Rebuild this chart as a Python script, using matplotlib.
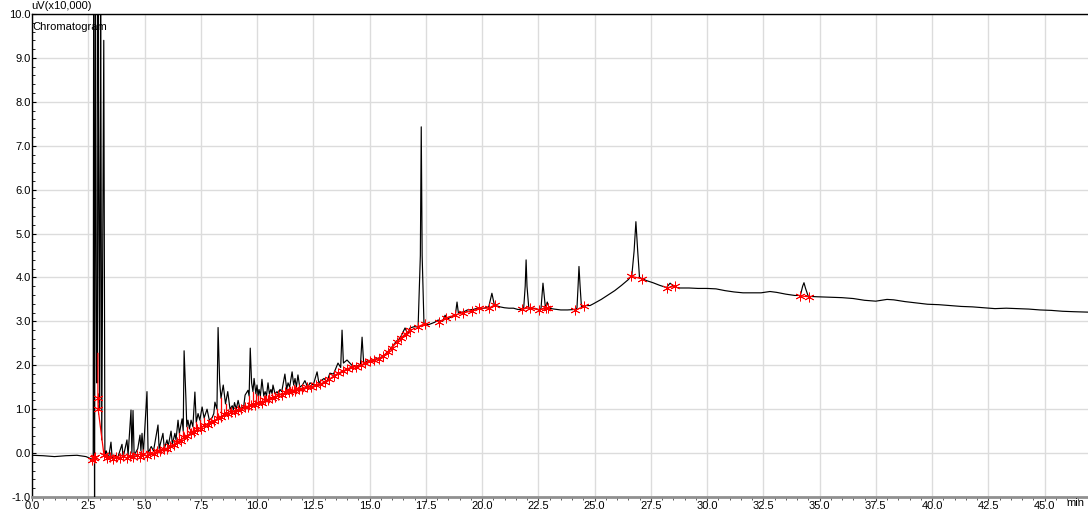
import numpy as np
import matplotlib
matplotlib.use('Agg')
import matplotlib.pyplot as plt
from matplotlib.ticker import MultipleLocator

plt.rcParams['font.family'] = ['Liberation Sans', 'DejaVu Sans']

# --- chromatogram trace, (min, uV x10,000) ---
pre_solvent = [(0.0, -0.05), (0.5, -0.06), (1.0, -0.08), (1.5, -0.06), (2.0, -0.05),
               (2.4, -0.08), (2.72, -0.15)]

solvent = [(2.74, 11.0), (2.78, -1.5), (2.82, 11.0), (2.87, 1.6), (2.89, 2.57), (2.91, 1.6),
           (2.93, 11.0), (3.01, 1.0), (3.05, 11.0), (3.1, 0.3), (3.19, 9.4), (3.24, -0.05)]

early = [(3.3, 0.05), (3.4, -0.12), (3.51, 0.25), (3.56, -0.1), (3.7, -0.05), (3.8, -0.12),
         (4.0, 0.2), (4.05, -0.1), (4.22, 0.3), (4.27, -0.05), (4.4, 0.98), (4.44, 0.0),
         (4.49, 0.97), (4.54, -0.05), (4.7, 0.1), (4.8, 0.41), (4.84, 0.05), (4.89, 0.45),
         (4.95, 0.0), (5.11, 1.4), (5.16, 0.0), (5.3, 0.15), (5.4, 0.05), (5.6, 0.64),
         (5.65, 0.1), (5.82, 0.45), (5.88, 0.1), (6.0, 0.3), (6.05, 0.15), (6.18, 0.5),
         (6.24, 0.2), (6.35, 0.45), (6.4, 0.3), (6.49, 0.75), (6.55, 0.45), (6.67, 0.78),
         (6.72, 0.5), (6.76, 2.33), (6.84, 1.25), (6.88, 0.6), (6.93, 0.75), (7.0, 0.55),
         (7.07, 0.75), (7.15, 0.6), (7.24, 1.39), (7.3, 0.7), (7.38, 0.9), (7.46, 0.75),
         (7.56, 1.05), (7.65, 0.8), (7.78, 1.0), (7.88, 0.75), (8.0, 0.8), (8.08, 0.9),
         (8.13, 1.16), (8.22, 1.0), (8.27, 2.86), (8.34, 1.62), (8.4, 1.25), (8.5, 1.55),
         (8.6, 1.12), (8.7, 1.4), (8.8, 1.0), (8.9, 1.08), (8.95, 0.98), (9.0, 1.15),
         (9.08, 1.0), (9.16, 1.2), (9.25, 1.0), (9.33, 1.05), (9.4, 1.02), (9.47, 1.32),
         (9.6, 1.43), (9.65, 1.3), (9.7, 2.39), (9.76, 1.6), (9.82, 1.4), (9.87, 1.7),
         (9.95, 1.35), (10.0, 1.55), (10.05, 1.3), (10.09, 1.45), (10.15, 1.3), (10.22, 1.68),
         (10.3, 1.3), (10.36, 1.4), (10.42, 1.3), (10.49, 1.6), (10.55, 1.35), (10.62, 1.45),
         (10.67, 1.35), (10.71, 1.55), (10.8, 1.35), (10.89, 1.4), (10.95, 1.35), (11.02, 1.45),
         (11.1, 1.4), (11.24, 1.8), (11.32, 1.45), (11.38, 1.6), (11.45, 1.5), (11.56, 1.85),
         (11.63, 1.55), (11.69, 1.7), (11.75, 1.5), (11.82, 1.78), (11.9, 1.5), (12.02, 1.55),
         (12.13, 1.65), (12.25, 1.5), (12.36, 1.6), (12.5, 1.55), (12.67, 1.85), (12.75, 1.6),
         (12.85, 1.65), (12.98, 1.7), (13.1, 1.62), (13.24, 1.82), (13.4, 1.8), (13.6, 2.05),
         (13.72, 1.95), (13.78, 2.8), (13.84, 2.05), (14.0, 2.12), (14.22, 2.0), (14.44, 1.98),
         (14.6, 2.02), (14.67, 2.64), (14.74, 2.05), (14.9, 2.1), (15.11, 2.12), (15.33, 2.15),
         (15.6, 2.2), (15.69, 2.25), (15.9, 2.35), (16.0, 2.42), (16.2, 2.55), (16.36, 2.62),
         (16.58, 2.85), (16.7, 2.71), (16.8, 2.85), (17.0, 2.88), (17.16, 2.87)]

late = [(17.26, 4.5), (17.3, 7.43), (17.34, 4.5), (17.42, 2.96), (17.6, 2.92), (17.9, 2.98),
        (18.05, 3.03), (18.25, 3.0), (18.36, 3.14), (18.45, 3.05), (18.7, 3.12), (18.82, 3.16),
        (18.89, 3.44), (18.95, 3.19), (19.2, 3.22), (19.35, 3.26), (19.6, 3.27), (19.8, 3.3),
        (19.95, 3.28), (20.3, 3.33), (20.44, 3.64), (20.55, 3.37), (20.8, 3.33), (21.0, 3.31),
        (21.2, 3.3), (21.4, 3.3), (21.6, 3.27), (21.85, 3.28), (21.92, 3.8), (21.96, 4.4),
        (22.0, 3.8), (22.08, 3.3), (22.3, 3.3), (22.5, 3.27), (22.62, 3.28), (22.71, 3.87),
        (22.82, 3.3), (22.9, 3.44), (22.98, 3.3), (23.2, 3.28), (23.5, 3.26), (23.8, 3.26),
        (24.1, 3.27), (24.22, 3.3), (24.27, 3.8), (24.31, 4.25), (24.36, 3.8), (24.42, 3.33),
        (24.6, 3.36), (24.8, 3.36), (24.95, 3.4), (25.3, 3.5), (25.6, 3.6), (25.9, 3.7),
        (26.2, 3.82), (26.5, 3.95), (26.66, 4.05), (26.76, 4.6), (26.84, 5.27), (26.92, 4.6),
        (27.0, 4.0), (27.3, 3.93), (27.6, 3.88), (27.9, 3.82), (28.2, 3.77), (28.36, 3.87),
        (28.55, 3.78), (28.8, 3.76), (29.2, 3.76), (29.6, 3.75), (30.0, 3.75), (30.4, 3.74),
        (30.8, 3.7), (31.2, 3.67), (31.6, 3.65), (32.0, 3.65), (32.4, 3.65), (32.8, 3.68),
        (33.1, 3.66), (33.5, 3.62), (33.9, 3.59), (34.15, 3.59), (34.25, 3.8), (34.31, 3.88),
        (34.38, 3.75), (34.5, 3.57), (34.9, 3.56), (35.5, 3.55), (36.0, 3.54), (36.5, 3.52),
        (37.0, 3.48), (37.5, 3.46), (38.0, 3.5), (38.3, 3.49), (38.8, 3.45), (39.3, 3.42),
        (39.8, 3.39), (40.3, 3.38), (40.8, 3.36), (41.3, 3.34), (41.8, 3.33), (42.3, 3.31),
        (42.8, 3.29), (43.3, 3.3), (43.8, 3.29), (44.3, 3.28), (44.8, 3.26), (45.3, 3.25),
        (45.8, 3.23), (46.3, 3.22), (46.95, 3.21)]

# --- integration baselines (red) ---
red_start = [(2.67, -0.15), (2.75, -0.12), (2.82, -0.08)]
red_solvent = [(2.93, 2.27), (2.93, 1.25), (2.94, 1.0), (3.2, -0.05)]
red_dense = [(3.2, -0.05), (3.33, -0.12), (3.45, -0.08), (3.6, -0.13), (3.75, -0.08), (3.9, -0.12),
             (4.05, -0.07), (4.2, -0.11), (4.35, -0.06), (4.5, -0.1), (4.65, -0.05), (4.8, -0.09),
             (4.95, -0.03), (5.1, -0.06), (5.25, 0.0), (5.4, -0.02), (5.55, 0.05), (5.7, 0.04),
             (5.85, 0.1), (6.0, 0.1), (6.15, 0.17), (6.3, 0.18), (6.45, 0.26), (6.6, 0.28),
             (6.75, 0.36), (6.9, 0.38), (7.05, 0.46), (7.2, 0.47), (7.35, 0.55), (7.5, 0.56),
             (7.65, 0.63), (7.8, 0.64), (7.95, 0.7), (8.1, 0.72), (8.25, 0.8), (8.4, 0.82),
             (8.55, 0.88), (8.7, 0.88), (8.85, 0.93), (9.0, 0.94), (9.15, 0.99), (9.3, 1.0),
             (9.45, 1.05), (9.6, 1.05), (9.75, 1.1), (9.9, 1.1), (10.05, 1.15), (10.2, 1.15),
             (10.35, 1.2), (10.5, 1.2), (10.65, 1.26), (10.8, 1.27), (10.95, 1.32), (11.1, 1.33),
             (11.25, 1.38), (11.4, 1.38), (11.55, 1.42), (11.7, 1.42), (11.85, 1.46), (12.0, 1.46),
             (12.2, 1.5), (12.4, 1.5), (12.6, 1.55), (12.8, 1.57), (13.0, 1.62), (13.2, 1.68),
             (13.4, 1.75), (13.6, 1.82), (13.8, 1.86), (14.0, 1.92), (14.2, 1.95), (14.4, 1.97),
             (14.6, 2.0), (14.8, 2.05), (15.0, 2.1), (15.2, 2.12), (15.4, 2.15), (15.6, 2.2),
             (15.8, 2.3), (16.0, 2.4), (16.2, 2.52), (16.4, 2.62), (16.6, 2.72), (16.8, 2.8)]
red_peaks = [
    [(17.16, 2.88), (17.47, 2.95)],
    [(18.1, 2.99), (18.4, 3.08), (18.8, 3.14), (19.17, 3.2), (19.55, 3.23), (19.87, 3.3),
     (20.3, 3.3), (20.58, 3.38)],
    [(21.78, 3.28), (22.13, 3.31), (22.53, 3.26), (22.84, 3.3), (22.95, 3.3)],
    [(24.13, 3.25), (24.53, 3.34)],
    [(26.6, 4.03), (27.1, 3.97)],
    [(28.22, 3.76), (28.58, 3.8)],
    [(34.13, 3.58), (34.53, 3.56)],
]

trace = np.array(pre_solvent + solvent + early + late)
t, y = trace[:, 0], trace[:, 1]

fig = plt.figure(figsize=(10.88, 5.11), dpi=100)
ax = fig.add_axes([32 / 1088, 14 / 511, 1056 / 1088, 483 / 511])

ax.plot(t, y, color='black', lw=0.85, zorder=3)

# drop lines from the dense baseline up to the valleys between fused peaks
rd = np.array(red_dense)
for i in range(1, len(t) - 1):
    if 3.3 < t[i] < 13.0 and y[i] < y[i - 1] and y[i] < y[i + 1]:
        b = np.interp(t[i], rd[:, 0], rd[:, 1])
        if y[i] > b + 0.05:
            ax.plot([t[i], t[i]], [b, y[i]], color='red', lw=0.9, zorder=4)

mk = dict(color='red', lw=0.9, marker=(6, 2, 0), ms=7, mew=0.6, zorder=5)
for grp in [red_start, red_dense] + red_peaks:
    g = np.array(grp)
    ax.plot(g[:, 0], g[:, 1], **mk)
g = np.array(red_solvent)
ax.plot(g[:, 0], g[:, 1], color='red', lw=0.9, zorder=5)
ax.plot(g[1:, 0], g[1:, 1], ls='none', marker=(6, 2, 0), ms=7, mew=0.6, color='red', zorder=5)

ax.set_xlim(0, 1056 / 22.5)
ax.set_ylim(-1.0, 10.0)
xt = np.arange(0, 46, 2.5)
ax.set_xticks(xt)
ax.set_xticklabels([f'{v:.1f}' for v in xt])
yt = np.arange(-1, 10.5, 1.0)
ax.set_yticks(yt)
ax.set_yticklabels([f'{v:.1f}' for v in yt])
ax.xaxis.set_minor_locator(MultipleLocator(0.5))
ax.yaxis.set_minor_locator(MultipleLocator(0.2))
ax.tick_params(axis='x', which='major', direction='out', length=3, pad=0, labelsize=8, color='#444444')
ax.tick_params(axis='x', which='minor', direction='out', length=2, color='#444444')
ax.tick_params(axis='y', which='major', direction='in', length=3, pad=1, labelsize=8)
ax.tick_params(axis='y', which='minor', direction='in', length=2)

ax.grid(True, which='major', color='#dcdcdc', lw=1.0)
ax.set_axisbelow(True)
ax.spines['right'].set_visible(False)
ax.spines['bottom'].set_color('#909090')
ax.spines['bottom'].set_linewidth(2.0)
ax.spines['left'].set_linewidth(1.0)
ax.spines['top'].set_linewidth(1.0)

fig.text(31 / 1088, 1 - 1 / 511, 'uV(x10,000)', fontsize=8, va='top', ha='left')
ax.text(0.0, (497 - 22) / 483, 'Chromatogram', transform=ax.transAxes, fontsize=8,
        va='top', ha='left', zorder=6)
fig.text(1066 / 1088, (511 - 498) / 511, 'min', fontsize=8, va='top', ha='left')

fig.savefig('out.png', dpi=100)
